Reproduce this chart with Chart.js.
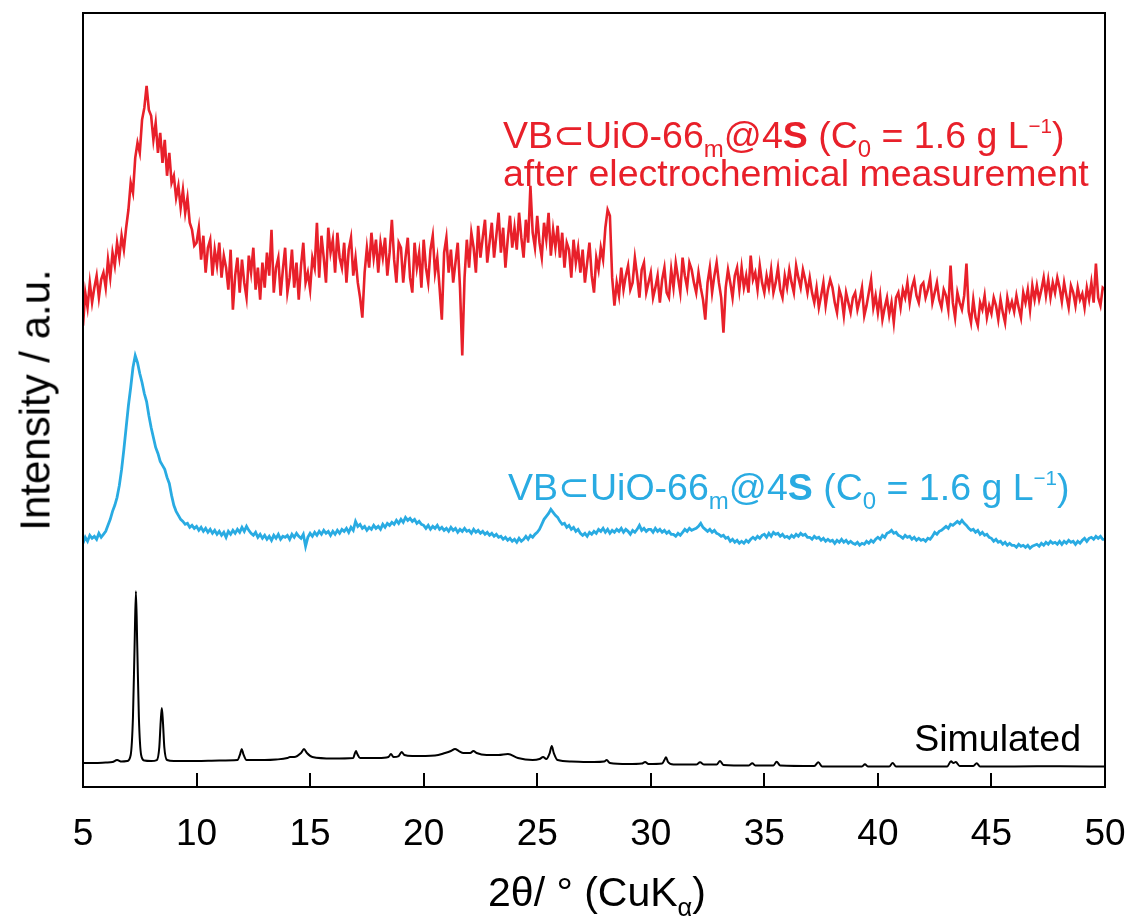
<!DOCTYPE html>
<html>
<head>
<meta charset="utf-8">
<script src="https://cdn.jsdelivr.net/npm/chart.js@4.4.1/dist/chart.umd.min.js"></script>
<style>
  html, body { margin: 0; padding: 0; background: #fff; }
  #wrap { position: relative; width: 1131px; height: 921px; font-family: "Liberation Sans", Arial, sans-serif; }
  #wrap canvas { position: absolute; left: 0; top: 0; }
  .lbl { position: absolute; white-space: nowrap; font-size: 37.5px; line-height: 37px; }
  .lbl sub { font-size: 0.64em; vertical-align: -0.38em; line-height: 0; }
  .lbl sup { font-size: 0.55em; vertical-align: 0.75em; line-height: 0; }
  .red { color: #E8202A; }
  .blue { color: #29ABE2; }
  .axt { position: absolute; white-space: nowrap; font-size: 41px; line-height: 41px; color: #000; }
  .axt sub { font-size: 0.62em; vertical-align: -0.4em; line-height: 0; }
</style>
</head>
<body>
<div id="wrap">
  <canvas id="xrd" width="1131" height="921"></canvas>
  <div class="lbl red" style="left:503px; top:117px;">VB⊂UiO-66<sub>m</sub>@4<b>S</b> (C<sub>0</sub> = 1.6 g L<sup>−1</sup>)</div>
  <div class="lbl red" style="left:503px; top:155px;">after electrochemical measurement</div>
  <div class="lbl blue" style="left:508px; top:469px;">VB⊂UiO-66<sub>m</sub>@4<b>S</b> (C<sub>0</sub> = 1.6 g L<sup>−1</sup>)</div>
  <div class="lbl" style="right:50px; top:720px; color:#000;">Simulated</div>
  <div class="axt" style="left:597px; top:872px; transform:translateX(-50%);">2θ/ ° (CuK<sub>α</sub>)</div>
  <div class="axt" style="left:35px; top:400px; font-size:42px; transform:translate(-50%,-50%) rotate(-90deg);">Intensity / a.u.</div>
</div>
<script>
// 2theta grid of the measured patterns (deg), one row per degree below
const xTicks = [5, 10, 15, 20, 25, 30, 35, 40, 45, 50];
const measuredStart = 5;
const measuredStep = 0.1;

// after electrochemical measurement (red), arbitrary units
const afterEchem = [
  462, 495, 480, 505, 485, 500, 512, 490, 508, 515,
  500, 528, 510, 535, 522, 545, 530, 552, 538, 560,
  578, 605, 595, 630, 645, 635, 668, 680, 702, 678,
  672, 648, 665, 635, 655, 625, 648, 612, 635, 605,
  612, 590, 602, 580, 598, 575, 590, 565, 558, 542,
  545, 560, 528, 552, 515, 540, 548, 512, 538, 522,
  545, 510, 532, 520, 498, 538, 478, 512, 530, 495,
  528, 505, 490, 532, 515, 540, 498, 520, 488, 525,
  500, 535, 512, 558, 495, 520, 530, 492, 518, 540,
  495, 510, 538, 500, 525, 488, 522, 545, 505, 515,
  498, 530, 520, 565, 510, 552, 530, 505, 560, 535,
  548, 515, 555, 530, 520, 545, 505, 538, 550, 512,
  530, 505, 490, 470, 515, 540, 520, 555, 530, 548,
  515, 545, 530, 550, 512, 535, 568, 528, 505, 545,
  540, 505, 530, 550, 510, 495, 545, 520, 535, 500,
  548, 520, 505, 538, 552, 515, 530, 500, 468, 535,
  550, 515, 538, 505, 525, 545, 500, 432, 510, 548,
  520, 555, 540, 515, 562, 530, 550, 568, 525, 545,
  565, 530, 552, 575, 535, 560, 520, 548, 572, 540,
  560, 538, 575, 550, 530, 568, 545, 602, 555, 540,
  572, 545, 530, 565, 548, 575, 532, 558, 540, 562,
  530, 555, 520, 545, 538, 510, 548, 525, 540, 515,
  538, 505, 525, 545, 512, 495, 530, 518, 540, 528,
  560, 578, 572, 510, 482, 505, 492, 520, 498, 512,
  522, 498, 505, 530, 512, 490, 518, 525, 495, 505,
  515, 490, 500, 512, 485, 508, 520, 495, 490, 518,
  500, 525, 510, 495, 530, 512, 500, 525, 518, 505,
  495, 515, 500, 488, 468, 505, 520, 495, 512, 525,
  505, 490, 455, 500, 518, 505, 490, 512, 520, 498,
  520, 500, 512, 495, 532, 508, 515, 498, 522, 505,
  495, 512, 500, 518, 495, 505, 520, 498, 490, 512,
  500, 518, 505, 495, 522, 510, 500, 518, 508, 495,
  510, 495, 485, 500, 480, 492, 505, 482, 498, 508,
  500, 485, 475, 498, 490, 472, 495, 485, 475, 490,
  495, 478, 488, 500, 472, 482, 495, 508, 480, 492,
  475, 492, 468, 480, 490, 472, 485, 465, 490, 495,
  480, 498, 490, 505, 485, 500, 508, 492, 485, 502,
  505, 490, 498, 510, 485, 495, 505, 488, 480, 498,
  492, 478, 522, 485, 470, 495, 485, 478, 492, 524,
  476, 465, 488, 470, 462, 485, 478, 492, 470, 482,
  474, 490, 482, 468, 488, 475, 465, 490, 478, 486,
  476, 492, 480, 470, 495, 485, 498, 478, 502, 488,
  502, 488, 498, 510, 492, 508, 490, 505, 495, 510,
  500, 486, 505, 492, 480, 502, 495, 482, 500, 488,
  494, 480, 500, 488, 505, 485, 524, 490, 482, 500,
  498
];

// as-prepared (blue)
const asPrepared = [
  244, 250, 246, 252, 249, 251, 248, 254, 250, 253,
  256, 262, 268, 276, 282, 290, 302, 318, 338, 360,
  382, 400, 420, 432, 425, 414, 405, 394, 386, 372,
  360, 350, 340, 334, 326, 322, 318, 310, 304, 292,
  282, 276, 272, 268, 266, 263, 264, 260, 262, 259,
  261, 257, 260, 256, 259, 255, 258, 254, 257, 253,
  256, 252, 255, 250, 256, 253, 257, 254, 258, 255,
  260, 256, 261, 257, 254, 252, 255, 250, 253, 249,
  252, 248, 251, 247, 252, 249, 253, 248, 251, 250,
  252, 248, 253, 250, 254, 251, 249, 253, 241, 250,
  254, 251, 255, 252, 256, 253, 257, 254, 256, 252,
  256, 253, 257, 254, 258, 256, 259, 255, 260, 257,
  266, 261, 263, 259, 261, 257, 260, 258, 262, 259,
  261, 258, 263, 260, 264, 262, 265, 263, 267, 264,
  268, 265, 270, 267, 269, 266, 268, 264, 266, 263,
  262, 259, 262, 258, 261, 259, 262, 258, 260, 257,
  259, 256, 260, 257, 259, 255, 258, 256, 259, 256,
  257, 254, 258, 255, 257, 254, 256, 253, 255, 252,
  254, 251, 253, 250, 251, 248, 250, 247, 249, 246,
  248, 245, 249, 246, 248, 251, 248, 252, 250, 253,
  255, 258, 263, 268, 271, 274, 278, 275, 272, 270,
  266, 263, 264, 260, 262, 258, 260, 256, 258, 254,
  252, 254, 251, 255, 253, 256, 254, 258, 256, 259,
  255, 258, 254, 257, 255, 258, 256, 259, 255, 258,
  256, 253, 257, 255, 258, 262, 257, 259, 256, 258,
  258, 255, 259, 256, 258, 255, 257, 254, 256, 253,
  253, 251, 254, 252, 255, 258, 256, 259, 257, 258,
  259, 261, 264, 260, 258, 256, 258, 255, 257, 254,
  253, 251, 252, 249, 250, 246, 248, 245, 247, 244,
  246, 244, 247, 245, 248, 250, 248, 251, 249, 252,
  253, 250, 254, 251, 255, 253, 254, 251, 253, 250,
  251, 249, 252, 250, 253, 251, 254, 252, 253, 250,
  250, 248, 251, 249, 250, 247, 249, 246, 248, 246,
  247, 244, 247, 245, 248, 245, 247, 244, 246, 244,
  243, 245, 242, 244, 243, 246, 244, 247, 245, 248,
  250, 248, 252, 250, 254, 255, 257, 254, 255, 252,
  251, 249, 252, 250, 251, 248, 250, 247, 249, 247,
  248, 246, 249, 248, 251, 255, 253, 256, 257, 259,
  261, 259, 263, 262, 264, 266, 264, 267, 264, 262,
  259, 257, 258, 255, 257, 253, 255, 252, 253, 250,
  249, 246, 248, 245, 246, 243, 245, 242, 244, 242,
  242, 240, 243, 241, 242, 240, 242, 239, 241, 242,
  243, 241, 244, 242, 245, 243, 246, 244, 245, 243,
  246, 243, 246, 244, 247, 245, 246, 243, 246, 244,
  247, 249, 246, 249, 250, 248, 251, 249, 251, 248,
  248
];

// simulated pattern (black), read peak by peak
const simAngles = [
  5.0, 5.5, 6.0, 6.3, 6.5, 6.7, 6.95, 7.1, 7.2, 7.27, 7.33, 7.39, 7.46, 7.56, 7.7,
  8.0, 8.25, 8.36, 8.42, 8.47, 8.52, 8.58, 8.7, 9.0, 10.0, 11.0,
  11.8, 11.92, 11.99, 12.06, 12.2, 13.0, 13.5, 14.0, 14.11, 14.3, 14.6, 14.73, 14.86, 15.1,
  16.0, 16.9, 16.96, 17.02, 17.08, 17.2, 18.0, 18.45, 18.56, 18.67, 18.9, 19.03, 19.15, 19.5,
  20.5, 20.94, 21.2, 21.38, 21.55, 21.75, 22.05, 22.19, 22.33, 22.77, 23.3, 23.71, 24.15, 24.8,
  25.1, 25.26, 25.4, 25.55, 25.64, 25.73, 25.9, 26.5, 27.5, 27.95, 28.06, 28.2, 29.0,
  29.6, 29.75, 29.9, 30.5, 30.6, 30.67, 30.76, 31.0, 32.0, 32.17, 32.35, 32.9, 33.05, 33.2,
  34.3, 34.47, 34.6, 35.4, 35.54, 35.7, 37.2, 37.38, 37.55, 39.3, 39.43, 39.56,
  40.5, 40.65, 40.8, 43.05, 43.22, 43.33, 43.43, 43.6, 44.2, 44.35, 44.5, 46.0, 48.0, 50.0
];
const simCounts = [
  24, 24, 24.5, 25, 27, 25.5, 26, 32, 70, 140, 196, 140, 70, 32, 26.5,
  26, 27, 40, 65, 79, 65, 40, 27, 26, 26, 26.5,
  27, 33, 38, 33, 27, 27, 27.5, 29, 30, 30, 34, 38, 34, 30,
  28.5, 29, 33, 36, 33, 29, 29, 30, 33, 30, 31, 35, 32, 31,
  31.5, 34, 36, 38, 36, 34, 34, 36, 34, 32, 32, 33, 29, 27,
  28, 30, 28, 34, 41, 34, 27, 25.5, 25, 25.5, 27, 24, 23,
  23.5, 25, 23, 23.5, 27, 29.7, 25, 22.5, 22.5, 24.7, 22.5, 22.5, 26, 22,
  21.5, 23.7, 21.5, 21.5, 25.3, 21.5, 21, 24.7, 20.5, 20.5, 22.7, 20.5,
  20.5, 24, 20.5, 20.5, 25.7, 24, 25, 21, 21, 23.7, 20.5, 20.5, 20.8, 20.5
];

const RED = '#E8202A';
const BLUE = '#29ABE2';

function toPoints(values) {
  return values.map((v, i) => ({ x: +(measuredStart + i * measuredStep).toFixed(2), y: v }));
}

const framePlugin = {
  id: 'frame',
  afterDatasetsDraw(chart) {
    const { ctx, chartArea: a, scales: { x } } = chart;
    ctx.save();
    ctx.strokeStyle = '#000';
    ctx.lineWidth = 2;
    ctx.beginPath();
    ctx.rect(a.left, a.top, a.right - a.left, a.bottom - a.top);
    xTicks.slice(1, -1).forEach((v) => {
      const px = Math.round(x.getPixelForValue(v));
      ctx.moveTo(px, a.bottom);
      ctx.lineTo(px, a.bottom - 14);
    });
    ctx.stroke();
    ctx.restore();
  },
};

new Chart(document.getElementById('xrd'), {
  type: 'line',
  data: {
    datasets: [
      {
        label: 'after electrochemical measurement',
        data: toPoints(afterEchem),
        borderColor: RED,
        borderWidth: 2.6,
        pointRadius: 0,
        tension: 0,
      },
      {
        label: 'as prepared',
        data: toPoints(asPrepared),
        borderColor: BLUE,
        borderWidth: 2.8,
        pointRadius: 0,
        tension: 0,
      },
      {
        label: 'Simulated',
        data: simAngles.map((a, i) => ({ x: a, y: simCounts[i] })),
        borderColor: '#000',
        borderWidth: 2,
        pointRadius: 0,
        cubicInterpolationMode: 'monotone',
      },
    ],
  },
  options: {
    responsive: false,
    animation: false,
    events: [],
    layout: { padding: { left: 83, right: 26, top: 13, bottom: 0 } },
    plugins: { legend: { display: false }, tooltip: { enabled: false } },
    scales: {
      x: {
        type: 'linear',
        min: 5,
        max: 50,
        afterBuildTicks: (scale) => { scale.ticks = xTicks.map((v) => ({ value: v })); },
        afterFit: (scale) => {
          scale.height = 134;
          scale.paddingLeft = 0;
          scale.paddingRight = 0;
        },
        grid: { display: false, drawTicks: false },
        border: { display: false },
        ticks: {
          color: '#000',
          padding: 26,
          maxRotation: 0,
          font: { family: '"Liberation Sans", Arial, sans-serif', size: 37 },
        },
      },
      y: {
        display: false,
        min: 0,
        max: 775,
      },
    },
  },
  plugins: [framePlugin],
});
</script>
</body>
</html>
